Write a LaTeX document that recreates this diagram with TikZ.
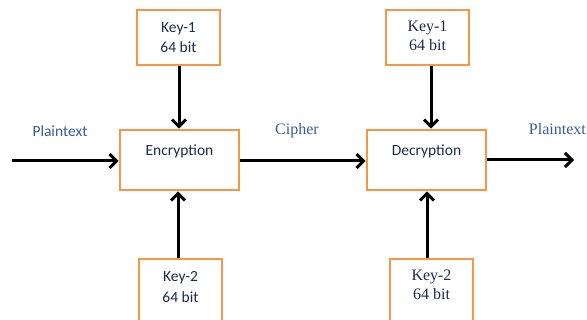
\documentclass[tikz,border=0pt]{standalone}
\usepackage{fontspec}
\setmainfont{Carlito}
\newfontfamily\serifface{Liberation Serif}
\usetikzlibrary{arrows.meta}
\definecolor{boxorange}{HTML}{F79646}
\definecolor{labelblue}{HTML}{3B5A9A}
\definecolor{keynavy}{HTML}{1F2A4F}
\tikzset{
  box/.style={draw=boxorange, line width=2.7pt, fill=white, rectangle, inner sep=0pt},
  boxtext/.style={text=keynavy, font=\fontsize{15.5}{20.5}\selectfont, align=center, inner sep=0pt},
  serifboxtext/.style={text=keynavy, font=\serifface\fontsize{16}{19.5}\selectfont, align=center, inner sep=0pt},
  lbl/.style={text=labelblue, font=\fontsize{15.5}{18}\selectfont, inner sep=0pt},
  seriflbl/.style={text=labelblue, font=\serifface\fontsize{16}{18}\selectfont, inner sep=0pt},
  flow/.style={draw=black, line width=3pt, -{Straight Barb[length=7pt, width=14pt, line width=3pt]}}
}
\begin{document}
\begin{tikzpicture}[x=1pt, y=-1pt]
\useasboundingbox (0,0) rectangle (587,320);
\clip (0,0) rectangle (587,320);
% boxes
\node[box, minimum width=83pt, minimum height=55pt] (k1a) at (178.5,37.5) {};
\node[boxtext] at (k1a.center) {Key-1\\64 bit};
\node[box, minimum width=119pt, minimum height=60pt] (enc) at (179.5,160) {};
\node[boxtext] (enct) at (179.5,151) {Encryption};
\node[box, minimum width=83pt, minimum height=64pt] (k2a) at (180.5,291) {};
\node[boxtext] at (180.5,287) {Key-2\\64 bit};

\node[box, minimum width=83pt, minimum height=55pt] (k1b) at (427.5,37.5) {};
\node[serifboxtext] at (427.5,36) {Key-1\\64 bit};
\node[box, minimum width=119pt, minimum height=60pt] (dec) at (426.5,160) {};
\node[boxtext] (dect) at (426.5,151) {Decryption};
\node[box, minimum width=83pt, minimum height=64pt] (k2b) at (431.5,291) {};
\node[serifboxtext] at (431.5,285) {Key-2\\64 bit};

% free ends
\coordinate (in) at (12,161);
\coordinate (out) at (574,160);

% labels
\node[lbl] (pt1) at (60,131) {Plaintext};
\node[seriflbl] (ci) at (297,131) {Cipher};
\node[seriflbl, anchor=east] (pt2) at (586,129) {Plaintext};

% arrows
\draw[flow] (in) -- (enc.west |- in);
\draw[flow] (enc.east |- 0,161) -- (dec.west |- 0,161);
\draw[flow] (dec.east |- out) -- (out);
\draw[flow] (k1a.south -| 179,0) -- (enc.north -| 179,0);
\draw[flow] (k2a.north -| 178,0) -- (enc.south -| 178,0);
\draw[flow] (k1b.south -| 431,0) -- (dec.north -| 431,0);
\draw[flow] (k2b.north -| 427,0) -- (dec.south -| 427,0);
\end{tikzpicture}
\end{document}
